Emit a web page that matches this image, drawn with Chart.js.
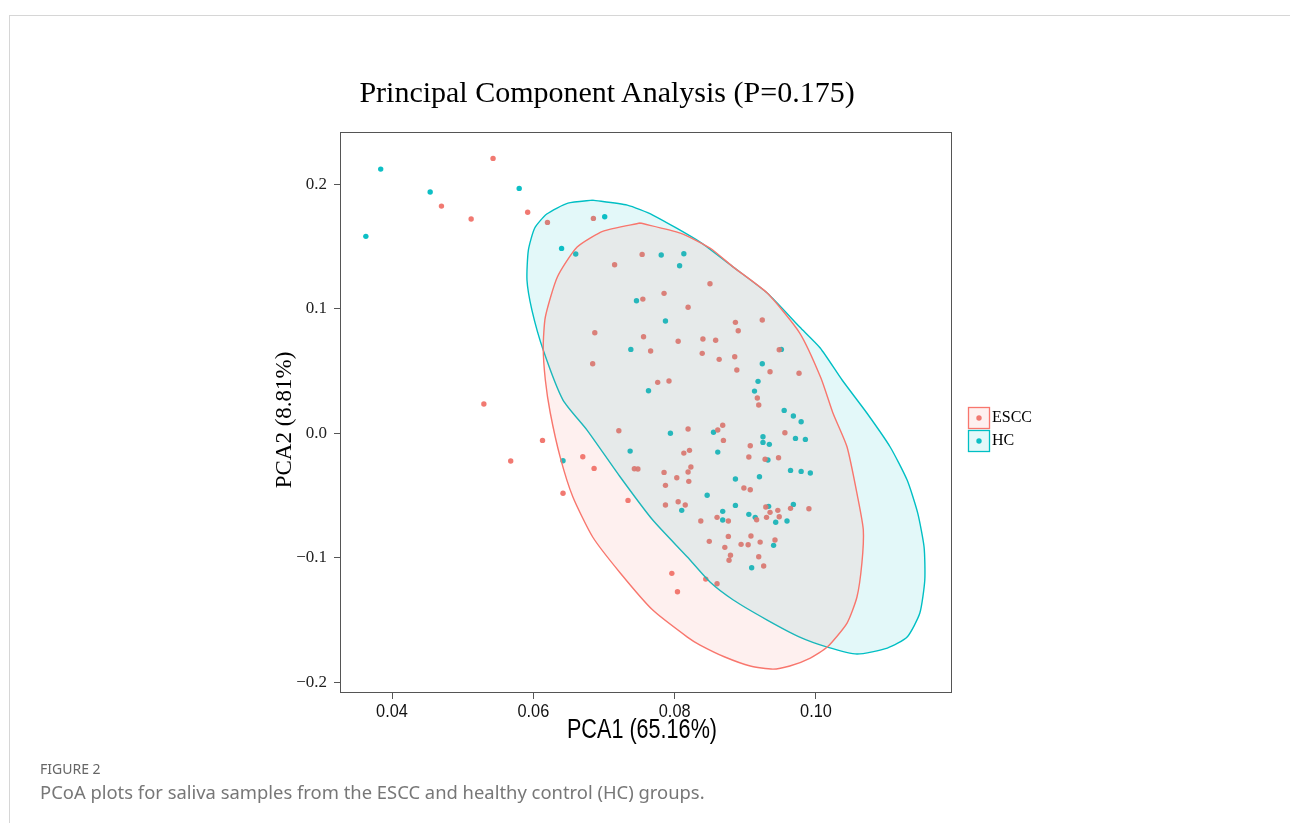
<!DOCTYPE html>
<html>
<head>
<meta charset="utf-8">
<script src="https://cdn.jsdelivr.net/npm/chart.js@4.4.1/dist/chart.umd.min.js"></script>
<style>
  html, body { margin: 0; padding: 0; background: #fff; }
  body { width: 1290px; height: 823px; position: relative; overflow: hidden; }
  #frame { position: absolute; left: 9px; top: 15px; right: -2px; bottom: -2px;
           border-top: 1px solid #d6d6d6; border-left: 1px solid #d6d6d6; }
  #chart { position: absolute; left: 0; top: 0; }
  #title { position: absolute; top: 75px; left: 607px; transform: translateX(-50%);
           font: 30px "Liberation Serif", "Times New Roman", serif; line-height: 34px;
           color: #000; white-space: nowrap; }
  #figLabel { position: absolute; left: 40px; top: 759px; font: 14px "Noto Sans", sans-serif;
              color: #666; }
  #caption { position: absolute; left: 40px; top: 779px; font: 18.4px "Noto Sans", sans-serif;
             color: #777; white-space: nowrap; }
</style>
</head>
<body>
<div id="frame"></div>
<canvas id="chart" width="1290" height="823"></canvas>
<div id="title">Principal Component Analysis (P=0.175)</div>
<div id="figLabel">FIGURE 2</div>
<div id="caption">PCoA plots for saliva samples from the ESCC and healthy control (HC) groups.</div>

<script>
// ---- data ----
const groups = ["ESCC", "HC"];

const esccX = [0.0470, 0.0512, 0.0543, 0.0592, 0.0620, 0.0685, 0.0715, 0.0754, 0.0755, 0.0785,
  0.0819, 0.0850, 0.0687, 0.0756, 0.0805, 0.0840, 0.0858, 0.0886, 0.0924, 0.0890,
  0.0766, 0.0839, 0.0863, 0.0885, 0.0948, 0.0684, 0.0888, 0.0935, 0.0976, 0.0776,
  0.0792, 0.0917, 0.0919, 0.0956, 0.0613, 0.0721, 0.0819, 0.0861, 0.0868, 0.0869,
  0.0907, 0.0670, 0.0686, 0.0743, 0.0748, 0.0813, 0.0821, 0.0905, 0.0928, 0.0947,
  0.0823, 0.0819, 0.0785, 0.0803, 0.0820, 0.0787, 0.0898, 0.0907, 0.0642, 0.0734,
  0.0805, 0.0815, 0.0787, 0.0860, 0.0876, 0.0837, 0.0916, 0.0929, 0.0935, 0.0946,
  0.0948, 0.0930, 0.0964, 0.0990, 0.0876, 0.0908, 0.0849, 0.0871, 0.0894, 0.0904,
  0.0921, 0.0942, 0.0879, 0.0877, 0.0919, 0.0926, 0.0796, 0.0804, 0.0844, 0.0860,
  0.0530, 0.0568];
const esccY = [0.1823, 0.1719, 0.2206, 0.1773, 0.1692, 0.1724, 0.1352, 0.1435, 0.1076, 0.1122,
  0.1010, 0.1199, 0.0806, 0.0774, 0.0737, 0.0755, 0.0745, 0.0889, 0.0908, 0.0822,
  0.0659, 0.0640, 0.0592, 0.0613, 0.0669, 0.0557, 0.0506, 0.0492, 0.0480, 0.0407,
  0.0418, 0.0281, 0.0225, 0.0002, -0.0059, 0.0018, 0.0032, 0.0024, 0.0062, -0.0059,
  -0.0102, -0.0190, -0.0284, -0.0287, -0.0289, -0.0161, -0.0139, -0.0193, -0.0211, -0.0198,
  -0.0273, -0.0313, -0.0316, -0.0359, -0.0388, -0.0420, -0.0442, -0.0455, -0.0484, -0.0541,
  -0.0552, -0.0578, -0.0578, -0.0677, -0.0707, -0.0707, -0.0696, -0.0594, -0.0637, -0.0621,
  -0.0672, -0.0677, -0.0605, -0.0608, -0.0830, -0.0827, -0.0870, -0.0918, -0.0894, -0.0897,
  -0.0876, -0.0859, -0.0982, -0.1022, -0.0994, -0.1068, -0.1127, -0.1275, -0.1173, -0.1210,
  0.0233, -0.0225];

const hcX = [0.0384, 0.0454, 0.0580, 0.0363, 0.0701, 0.0640, 0.0660, 0.0746, 0.0781, 0.0813,
  0.0807, 0.0787, 0.0738, 0.0951, 0.0924, 0.0763, 0.0918, 0.0913, 0.0955, 0.0968,
  0.0979, 0.0794, 0.0855, 0.0925, 0.0925, 0.0934, 0.0971, 0.0985, 0.0737, 0.0642,
  0.0861, 0.0932, 0.0964, 0.0979, 0.0992, 0.0920, 0.0886, 0.0846, 0.0810, 0.0886,
  0.0868, 0.0868, 0.0905, 0.0914, 0.0933, 0.0968, 0.0943, 0.0959, 0.0940, 0.0909];
const hcY = [0.2120, 0.1936, 0.1965, 0.1580, 0.1737, 0.1483, 0.1438, 0.1063, 0.1430, 0.1440,
  0.1344, 0.0900, 0.0672, 0.0672, 0.0557, 0.0340, 0.0415, 0.0337, 0.0182, 0.0137,
  0.0091, -0.0002, 0.0006, -0.0030, -0.0075, -0.0091, -0.0043, -0.0051, -0.0145, -0.0222,
  -0.0153, -0.0217, -0.0300, -0.0308, -0.0321, -0.0351, -0.0369, -0.0500, -0.0621, -0.0581,
  -0.0629, -0.0699, -0.0653, -0.0677, -0.0589, -0.0573, -0.0717, -0.0707, -0.0902, -0.1082];

// confidence ellipse outlines (vertices)
const esccEllX = [0.0751, 0.0808, 0.0850, 0.0883, 0.0931, 0.0977, 0.1007, 0.1024, 0.1044, 0.1059,
  0.1067, 0.1065, 0.1058, 0.1044, 0.1016, 0.0992, 0.0963, 0.0939, 0.0907, 0.0871,
  0.0836, 0.0818, 0.0769, 0.0723, 0.0684, 0.0656, 0.0638, 0.0624, 0.0617, 0.0614,
  0.0617, 0.0634, 0.0662, 0.0699, 0.0751];
const esccEllY = [0.1687, 0.1606, 0.1486, 0.1333, 0.1124, 0.0803, 0.0442, 0.0161, -0.0112, -0.0514,
  -0.0779, -0.1044, -0.1317, -0.1526, -0.1719, -0.1807, -0.1871, -0.1896, -0.1871, -0.1799,
  -0.1703, -0.1639, -0.1422, -0.1124, -0.0835, -0.0514, -0.0193, 0.0161, 0.0426, 0.0691,
  0.0932, 0.1253, 0.1494, 0.1622, 0.1687];

const hcEllX = [0.0684, 0.0733, 0.0769, 0.0836, 0.0883, 0.0931, 0.0977, 0.1006, 0.1037, 0.1072,
  0.1105, 0.1129, 0.1144, 0.1153, 0.1154, 0.1147, 0.1129, 0.1101, 0.1058, 0.1016,
  0.0977, 0.0931, 0.0883, 0.0850, 0.0818, 0.0769, 0.0723, 0.0676, 0.0642, 0.0614,
  0.0598, 0.0591, 0.0593, 0.0602, 0.0619, 0.0649, 0.0684];
const hcEllY = [0.1871, 0.1831, 0.1751, 0.1534, 0.1333, 0.1124, 0.0851, 0.0683, 0.0426, 0.0161,
  -0.0112, -0.0378, -0.0643, -0.0916, -0.1181, -0.1446, -0.1639, -0.1727, -0.1775, -0.1719,
  -0.1639, -0.1502, -0.1341, -0.1197, -0.0996, -0.0699, -0.0353, 0.0024, 0.0265, 0.0667,
  0.0988, 0.1229, 0.1470, 0.1647, 0.1759, 0.1847, 0.1871];

const xTicks = [0.04, 0.06, 0.08, 0.10];
const xTickLabels = ["0.04", "0.06", "0.08", "0.10"];
const yTicks = [-0.2, -0.1, 0.0, 0.1, 0.2];
const yTickLabels = ["\u22120.2", "\u22120.1", "0.0", "0.1", "0.2"];
const xRange = [0.03264, 0.11925];
const yRange = [-0.2088, 0.2418];
const xTitle = "PCA1 (65.16%)";
const yTitle = "PCA2 (8.81%)";

// ---- styling ----
const lineColors = { ESCC: "rgb(248, 118, 109)", HC: "rgb(0, 191, 196)" };
const fillColors = { ESCC: "rgba(248, 118, 109, 0.11)", HC: "rgba(0, 191, 196, 0.11)" };
const pointColors = { ESCC: "rgba(240, 114, 105, 0.95)", HC: "rgba(0, 188, 194, 0.95)" };
const narrowFont = '"Liberation Sans", Arial, sans-serif';

const zip = (xs, ys) => xs.map((x, i) => ({ x, y: ys[i] }));

// condensed text, since no narrow sans is installed
function drawCondensed(ctx, text, cx, cy, font, squeeze) {
  ctx.save();
  ctx.font = font;
  ctx.textAlign = "center";
  ctx.textBaseline = "middle";
  ctx.translate(cx, cy);
  ctx.scale(squeeze, 1);
  ctx.fillText(text, 0, 0);
  ctx.restore();
}

const panelBorder = {
  id: "panelBorder",
  afterDraw(chart) {
    const { ctx, chartArea: a } = chart;
    ctx.save();
    ctx.strokeStyle = "#555";
    ctx.lineWidth = 1;
    ctx.strokeRect(a.left + 0.5, a.top + 0.5, a.width - 1, a.height - 1);
    ctx.restore();
  },
};

const axisText = {
  id: "axisText",
  afterDraw(chart) {
    const { ctx, chartArea: a } = chart;
    const xs = chart.scales.x;
    ctx.save();
    ctx.fillStyle = "#111";
    xTicks.forEach((v, i) => {
      drawCondensed(ctx, xTickLabels[i], xs.getPixelForValue(v), a.bottom + 19,
        "19px " + narrowFont, 0.86);
    });
    ctx.fillStyle = "#000";
    drawCondensed(ctx, xTitle, a.left + a.width / 2 - 4, a.bottom + 38, "27px " + narrowFont, 0.8);

    // y title, rotated
    ctx.translate(285, 420);
    ctx.rotate(-Math.PI / 2);
    ctx.font = '23px "Liberation Serif", serif';
    ctx.textAlign = "center";
    ctx.textBaseline = "middle";
    ctx.fillText(yTitle, 0, 0);
    ctx.restore();
  },
};

const sideLegend = {
  id: "sideLegend",
  afterDraw(chart) {
    const { ctx, chartArea: a } = chart;
    const left = a.right + 16;
    const size = 22;
    const top0 = 407;
    ctx.save();
    groups.forEach((g, i) => {
      const top = top0 + i * 23;
      ctx.fillStyle = "#fff";
      ctx.fillRect(left, top, size, size);
      ctx.fillStyle = fillColors[g];
      ctx.fillRect(left, top, size, size);
      ctx.strokeStyle = lineColors[g];
      ctx.lineWidth = 1.3;
      ctx.strokeRect(left + 0.5, top + 0.5, size - 1, size - 1);
      ctx.fillStyle = pointColors[g];
      ctx.beginPath();
      ctx.arc(left + size / 2, top + size / 2, 2.7, 0, Math.PI * 2);
      ctx.fill();
      ctx.fillStyle = "#000";
      ctx.font = '16px "Liberation Serif", serif';
      ctx.textBaseline = "middle";
      ctx.textAlign = "left";
      ctx.fillText(g, left + size + 2, top + size / 2);
    });
    ctx.restore();
  },
};

const ctx = document.getElementById("chart").getContext("2d");

new Chart(ctx, {
  type: "scatter",
  data: {
    datasets: [
      {
        label: "ESCC ellipse",
        data: zip(esccEllX, esccEllY),
        showLine: true,
        fill: "shape",
        backgroundColor: fillColors.ESCC,
        borderColor: lineColors.ESCC,
        borderWidth: 1.4,
        pointRadius: 0,
        tension: 0.2,
        order: 1,
      },
      {
        label: "HC ellipse",
        data: zip(hcEllX, hcEllY),
        showLine: true,
        fill: "shape",
        backgroundColor: fillColors.HC,
        borderColor: lineColors.HC,
        borderWidth: 1.4,
        pointRadius: 0,
        tension: 0.2,
        order: 1,
      },
      {
        label: "ESCC",
        data: zip(esccX, esccY),
        pointRadius: 2.7,
        pointBorderWidth: 0,
        backgroundColor: pointColors.ESCC,
        order: 2,
      },
      {
        label: "HC",
        data: zip(hcX, hcY),
        pointRadius: 2.7,
        pointBorderWidth: 0,
        backgroundColor: pointColors.HC,
        order: 2,
      },
    ],
  },
  options: {
    responsive: false,
    animation: false,
    devicePixelRatio: 1,
    events: [],
    layout: { padding: { left: 270, right: 338, top: 132, bottom: 68 } },
    plugins: {
      legend: { display: false },
      tooltip: { enabled: false },
      title: { display: false },
    },
    scales: {
      x: {
        type: "linear",
        min: xRange[0],
        max: xRange[1],
        afterBuildTicks: (scale) => { scale.ticks = xTicks.map((v) => ({ value: v })); },
        afterFit: (scale) => { scale.height = 62; },
        ticks: { callback: () => "", maxRotation: 0 },
        grid: { drawOnChartArea: false, drawTicks: true, tickLength: 6, color: "#555" },
        border: { display: false },
      },
      y: {
        type: "linear",
        min: yRange[0],
        max: yRange[1],
        afterBuildTicks: (scale) => { scale.ticks = yTicks.map((v) => ({ value: v })); },
        afterFit: (scale) => { scale.width = 70; },
        ticks: {
          callback: (v) => {
            const i = yTicks.findIndex((t) => Math.abs(t - v) < 1e-9);
            return i >= 0 ? yTickLabels[i] : "";
          },
          font: { family: '"Liberation Serif", serif', size: 17 },
          color: "#222",
          padding: 7,
        },
        grid: { drawOnChartArea: false, drawTicks: true, tickLength: 6, color: "#555" },
        border: { display: false },
      },
    },
  },
  plugins: [panelBorder, axisText, sideLegend],
});
</script>
</body>
</html>
